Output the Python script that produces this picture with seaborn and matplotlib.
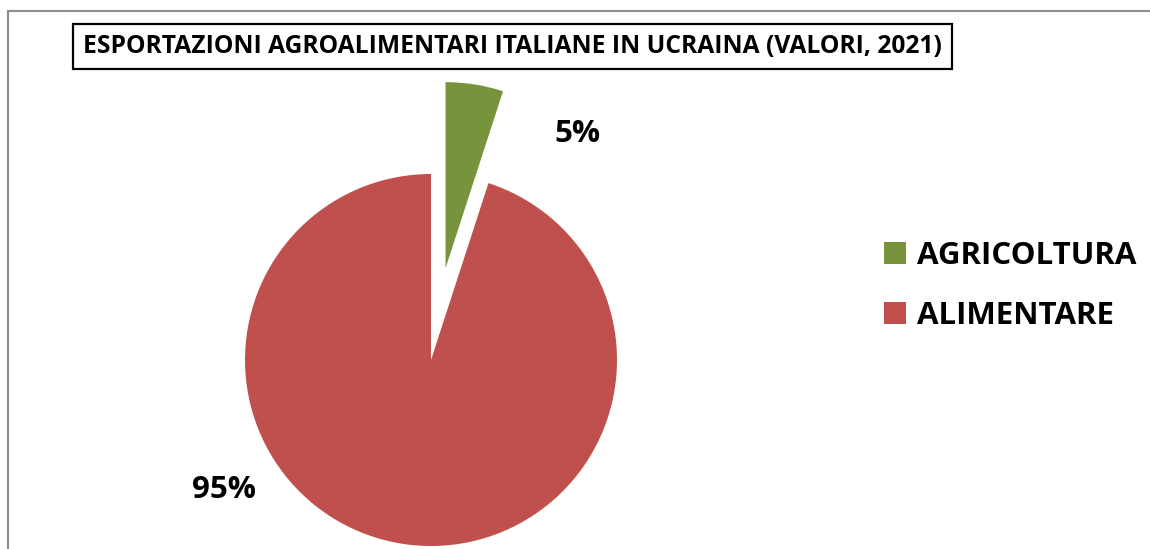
import matplotlib
matplotlib.use("Agg")
import matplotlib.pyplot as plt
from matplotlib.patches import Rectangle
import seaborn as sns

sns.set_style("white")
plt.rcParams["font.family"] = ["Open Sans", "DejaVu Sans"]
plt.rcParams["text.color"] = "black"

TITLE = "ESPORTAZIONI AGROALIMENTARI ITALIANE IN UCRAINA (VALORI, 2021)"
CATEGORIES = ["AGRICOLTURA", "ALIMENTARE"]
SHARES = [5, 95]
PCT_LABELS = ["5%", "95%"]
COLORS = ["#77933C", "#C0504D"]

W, H = 1150, 549
fig = plt.figure(figsize=(W / 100, H / 100), dpi=100)

# pie centre / radius in pixels
cx, cy, r = 431, 360, 186
ax = fig.add_axes([0, 0, 1, 1])
ax.axis("off")

wedges, _ = ax.pie(SHARES, colors=COLORS, startangle=90, counterclock=False,
                   explode=[0.5, 0], radius=1, center=(0, 0), frame=False,
                   wedgeprops=dict(linewidth=0))
ax.set_xlim(-cx / r, (W - cx) / r)
ax.set_ylim(-(H - cy) / r, cy / r)
ax.set_aspect("auto")

# data labels (Excel "best fit" placement)
ax.text(0.785, 1.215, PCT_LABELS[0], ha="center", va="center",
        fontsize=22.5, fontweight="bold")
ax.text(-1.113, -0.699, PCT_LABELS[1], ha="center", va="center",
        fontsize=22.5, fontweight="bold")

leg = ax.legend(wedges, CATEGORIES, loc="upper left",
                bbox_to_anchor=(856 / W, 1 - 213 / H), bbox_transform=fig.transFigure,
                frameon=False, prop=dict(size=22.5, weight="bold"),
                handlelength=0.7, handleheight=0.7, handletextpad=0.35,
                labelspacing=0.95)

fig.text((74 + 951) / 2 / W, 1 - 46.5 / H, TITLE, ha="center", va="center",
         fontsize=17.7, fontweight="bold",
         bbox=dict(boxstyle="square,pad=0.4", facecolor="white",
                   edgecolor="black", linewidth=1.6))

# outer chart frame (cut off at right / bottom in the reference)
fig.patches.append(Rectangle((8 / W, -0.1), 1.2, 1.1 - 11 / H,
                             transform=fig.transFigure, fill=False,
                             edgecolor="#8c8c8c", linewidth=1.5))

fig.savefig("out.png", dpi=100)
